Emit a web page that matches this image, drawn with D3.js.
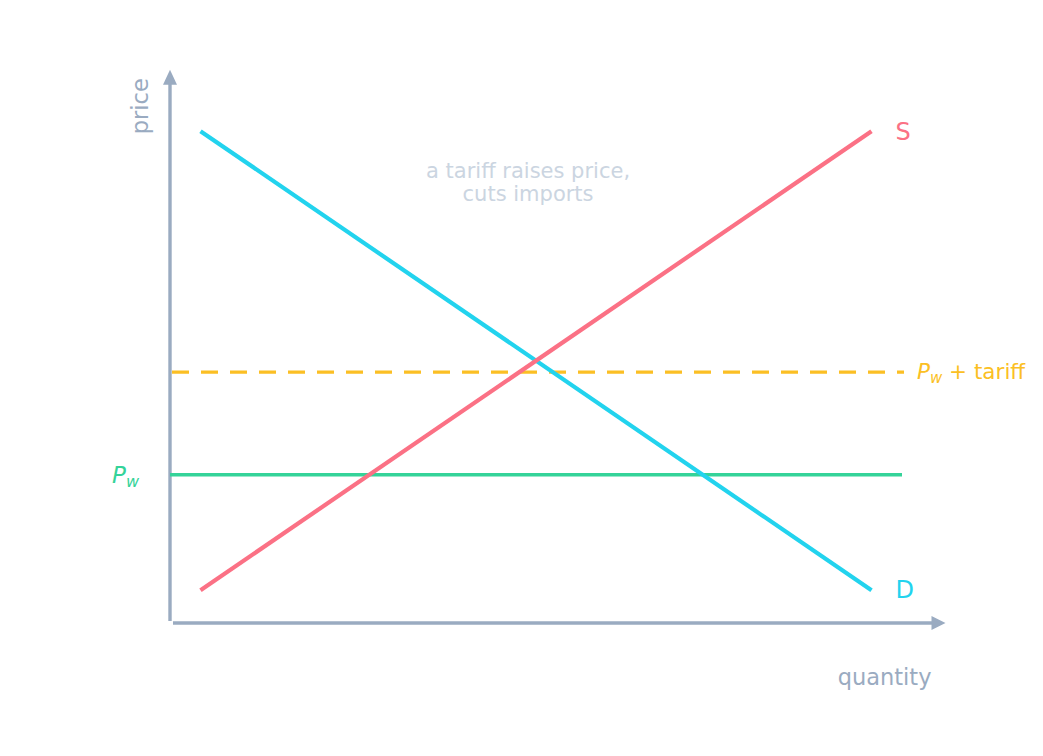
<!DOCTYPE html>
<html>
<head>
<meta charset="utf-8">
<script src="https://cdn.jsdelivr.net/npm/d3@7"></script>
<style>
  html, body { margin: 0; padding: 0; background: #fff; }
  svg { display: block; font-family: "DejaVu Sans", sans-serif; }
</style>
</head>
<body>
<script>
// curves: [quantity, price] end points
var demand = [[1, 15], [23, 1]];
var supply = [[1, 1], [23, 15]];
var worldPrice = 4.52;
var tariffPrice = 7.65;
var priceSpan = [0, 24];       // horizontal price lines run across this quantity range
var curveLabels = ['S', 'D'];
var noteLines = ['a tariff raises price,', 'cuts imports'];

var width = 1043, height = 756;

var x = d3.scaleLinear().domain([0, 25]).range([170, 932.5]);
var y = d3.scaleLinear().domain([0, 17]).range([623, 65.6]);

var axisColor = '#9aabc1';

var svg = d3.select('body').append('svg')
  .attr('width', width)
  .attr('height', height);

var line = d3.line()
  .x(function(d) { return x(d[0]); })
  .y(function(d) { return y(d[1]); });

// axes as arrows
svg.append('line')
  .attr('x1', x(0)).attr('y1', y(0) - 2)
  .attr('x2', x(0)).attr('y2', y(16.5))
  .attr('stroke', axisColor).attr('stroke-width', 3.4);
svg.append('path')
  .attr('d', 'M' + (x(0) - 7) + ',' + (y(16.45) + 1) + 'L' + x(0) + ',' + (y(16.45) - 14) + 'L' + (x(0) + 7) + ',' + (y(16.45) + 1) + 'Z')
  .attr('fill', axisColor);

svg.append('line')
  .attr('x1', x(0) + 3).attr('y1', y(0))
  .attr('x2', x(25)).attr('y2', y(0))
  .attr('stroke', axisColor).attr('stroke-width', 3.4);
svg.append('path')
  .attr('d', 'M' + (x(25) - 1) + ',' + (y(0) - 7) + 'L' + (x(25) + 13) + ',' + y(0) + 'L' + (x(25) - 1) + ',' + (y(0) + 7) + 'Z')
  .attr('fill', axisColor);

// world price + tariff (dashed)
svg.append('path')
  .datum([[priceSpan[0], tariffPrice], [priceSpan[1], tariffPrice]])
  .attr('d', line)
  .attr('fill', 'none')
  .attr('stroke', '#fbbf24')
  .attr('stroke-width', 3.4)
  .attr('stroke-dasharray', '17,12')
  .attr('transform', 'translate(2,0)');

// world price
svg.append('path')
  .datum([[priceSpan[0], worldPrice], [priceSpan[1], worldPrice]])
  .attr('d', line)
  .attr('fill', 'none')
  .attr('stroke', '#34d399')
  .attr('stroke-width', 3.4);

// demand and supply
svg.append('path')
  .datum(demand)
  .attr('d', line)
  .attr('fill', 'none')
  .attr('stroke', '#22d3ee')
  .attr('stroke-width', 4.2);

svg.append('path')
  .datum(supply)
  .attr('d', line)
  .attr('fill', 'none')
  .attr('stroke', '#fb7185')
  .attr('stroke-width', 4.2);

// curve labels
svg.append('text')
  .attr('x', x(supply[1][0]) + 24).attr('y', y(supply[1][1]))
  .attr('dy', '0.36em')
  .attr('font-size', 24)
  .attr('fill', '#fb7185')
  .text(curveLabels[0]);

svg.append('text')
  .attr('x', x(demand[1][0]) + 24).attr('y', y(demand[1][1]))
  .attr('dy', '0.34em')
  .attr('font-size', 24)
  .attr('fill', '#22d3ee')
  .text(curveLabels[1]);

// P_w label
var pw = svg.append('text')
  .attr('x', x(0) - 58).attr('y', y(worldPrice) + 8)
  .attr('font-size', 23)
  .attr('fill', '#34d399');
pw.append('tspan').attr('font-style', 'italic').text('P');
pw.append('tspan').attr('font-style', 'italic').attr('font-size', 16).attr('dy', 4).text('w');

// P_w + tariff label
var pt = svg.append('text')
  .attr('x', x(priceSpan[1]) + 15).attr('y', y(tariffPrice) + 7)
  .attr('font-size', 21.5)
  .attr('fill', '#fbbf24');
pt.append('tspan').attr('font-style', 'italic').text('P');
pt.append('tspan').attr('font-style', 'italic').attr('font-size', 15).attr('dy', 4).text('w');
pt.append('tspan').attr('dy', -4).text(' + tariff');

// axis titles
svg.append('text')
  .attr('transform', 'translate(' + (x(0) - 22) + ',' + y(15.76) + ') rotate(-90)')
  .attr('text-anchor', 'middle')
  .attr('font-size', 22.5)
  .attr('fill', axisColor)
  .text('price');

svg.append('text')
  .attr('x', x(25) - 1).attr('y', y(0) + 62)
  .attr('text-anchor', 'end')
  .attr('font-size', 22.5)
  .attr('fill', axisColor)
  .text('quantity');

// note
svg.append('g')
  .selectAll('text')
  .data(noteLines)
  .enter().append('text')
  .attr('x', x(11.74))
  .attr('y', function(d, i) { return y(13.45) - 4 + i * 23; })
  .attr('text-anchor', 'middle')
  .attr('font-size', 21)
  .attr('fill', '#cbd5e1')
  .text(function(d) { return d; });
</script>
</body>
</html>
